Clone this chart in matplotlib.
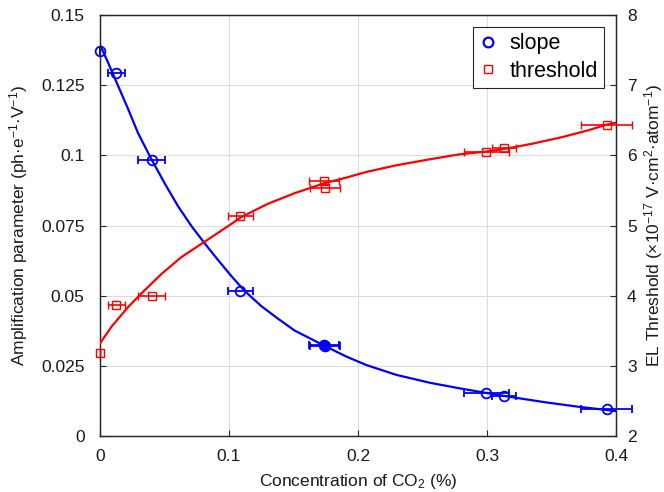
import matplotlib

matplotlib.use("Agg")
import matplotlib.pyplot as plt
import numpy as np

plt.rcParams["font.family"] = ["Liberation Sans", "DejaVu Sans"]
plt.rcParams["mathtext.default"] = "regular"

# measured points (CO2 concentration in %, with horizontal uncertainty)
conc = np.array([0.0, 0.0125, 0.040, 0.1088, 0.1738, 0.1746, 0.2995, 0.313, 0.3927])
conc_err = np.array([0.0, 0.0066, 0.0105, 0.0097, 0.0116, 0.0116, 0.0175, 0.0095, 0.020])
slope = np.array([0.1372, 0.1294, 0.0985, 0.0517, 0.0325, 0.0322, 0.0153, 0.0144, 0.0096])
threshold = np.array([3.18, 3.86, 4.00, 5.13, 5.64, 5.53, 6.05, 6.10, 6.43])

# fitted curves
slope_fit_x = np.array([0, 0.0064, 0.0121, 0.0219, 0.0296, 0.0399, 0.0503, 0.0606,
                        0.0709, 0.0812, 0.0915, 0.1018, 0.1121, 0.125, 0.138, 0.1508,
                        0.1742, 0.191, 0.2064, 0.2296, 0.2554, 0.2786, 0.3, 0.3198,
                        0.3455, 0.3713, 0.3996])
slope_fit_y = np.array([0.1394, 0.1329, 0.1268, 0.1164, 0.1078, 0.0986, 0.0899, 0.0818,
                        0.0748, 0.0686, 0.0627, 0.0570, 0.0517, 0.0463, 0.0418, 0.0376,
                        0.0321, 0.0283, 0.0253, 0.0218, 0.0190, 0.0170, 0.0153, 0.0138,
                        0.0120, 0.0104, 0.0089])
thr_fit_x = np.array([0, 0.009, 0.0219, 0.032, 0.0477, 0.0631, 0.0812, 0.0992, 0.1095,
                      0.1302, 0.1508, 0.1742, 0.191, 0.2064, 0.2296, 0.2554, 0.2786,
                      0.3, 0.3146, 0.3352, 0.3584, 0.379, 0.3932, 0.3996])
thr_fit_y = np.array([3.32, 3.56, 3.84, 4.03, 4.31, 4.55, 4.77, 4.99, 5.12,
                      5.31, 5.46, 5.605, 5.683, 5.763, 5.858, 5.943, 6.014,
                      6.055, 6.095, 6.166, 6.26, 6.36, 6.44, 6.464])

left_ticks = [0, 0.025, 0.05, 0.075, 0.1, 0.125, 0.15]
left_labels = ["0", "0.025", "0.05", "0.075", "0.1", "0.125", "0.15"]
right_ticks = [2, 3, 4, 5, 6, 7, 8]
x_ticks = [0, 0.1, 0.2, 0.3, 0.4]
x_labels = ["0", "0.1", "0.2", "0.3", "0.4"]

fig = plt.figure(figsize=(6.64, 4.92), dpi=100)
ax = fig.add_axes([0.1506, 0.1138, 0.7771, 0.8557])
ax2 = ax.twinx()

blue = "#0000ff"
red = "#ff0000"
axis_col = "#262626"

ax.plot(slope_fit_x, slope_fit_y, color=blue, lw=1.6, zorder=3)
ax.errorbar(conc, slope, xerr=conc_err, fmt="o", color=blue, mfc="none", ms=7,
            mew=1.3, elinewidth=1.3, capsize=3, capthick=1.3, clip_on=False, zorder=4)
# the two coincident points near 0.174 look filled
ax.plot(conc[4:6], slope[4:6], "o", color=blue, ms=7, zorder=5)

ax2.plot(thr_fit_x, thr_fit_y, color=red, lw=1.6, zorder=3)
ax2.errorbar(conc, threshold, xerr=conc_err, fmt="s", color=red, mfc="none", ms=6,
             mew=1.0, elinewidth=1.2, capsize=3, capthick=1.2, clip_on=False, zorder=4)

ax.set_xlim(0, 0.4)
ax.set_ylim(0, 0.15)
ax2.set_ylim(2, 8)
ax.set_xticks(x_ticks)
ax.set_xticklabels(x_labels)
ax.set_yticks(left_ticks)
ax.set_yticklabels(left_labels)
ax2.set_yticks(right_ticks)

ax.grid(True, color="#dcdcdc", lw=0.8)
ax.set_axisbelow(True)

for a in (ax, ax2):
    for sp in a.spines.values():
        sp.set_color(axis_col)
        sp.set_linewidth(0.9)
    a.tick_params(direction="in", length=4, width=0.8, colors=axis_col,
                  labelsize=12.5, labelcolor="#1a1a1a")

ax.tick_params(axis="x", pad=9)
ax.tick_params(axis="y", pad=11)
ax2.tick_params(axis="y", pad=8)
ax.set_xlabel("Concentration of CO$_2$ (%)", fontsize=12.5, color="#1a1a1a",
              labelpad=6)
ax.set_ylabel("Amplification parameter (ph·e$^{-1}$·V$^{-1}$)", fontsize=12.5,
              color="#1a1a1a", labelpad=8)
ax2.set_ylabel("EL Threshold (×10$^{-17}$ V·cm$^2$·atom$^{-1}$)", fontsize=12.5,
               color="#1a1a1a", labelpad=4)

h1 = plt.Line2D([], [], ls="none", marker="o", color=blue, mfc="none", ms=7, mew=1.6)
h2 = plt.Line2D([], [], ls="none", marker="s", color=red, mfc="none", ms=6, mew=1.0)
leg = ax2.legend([h1, h2], ["slope", "threshold"], loc="upper right",
                 bbox_to_anchor=(0.977, 0.972), borderaxespad=0, fontsize=15.5,
                 frameon=True, fancybox=False, framealpha=1, edgecolor=axis_col,
                 handlelength=0.8, handletextpad=0.6, borderpad=0.3,
                 labelspacing=0.3)
leg.get_frame().set_linewidth(0.8)

fig.savefig("out.png", dpi=100)
